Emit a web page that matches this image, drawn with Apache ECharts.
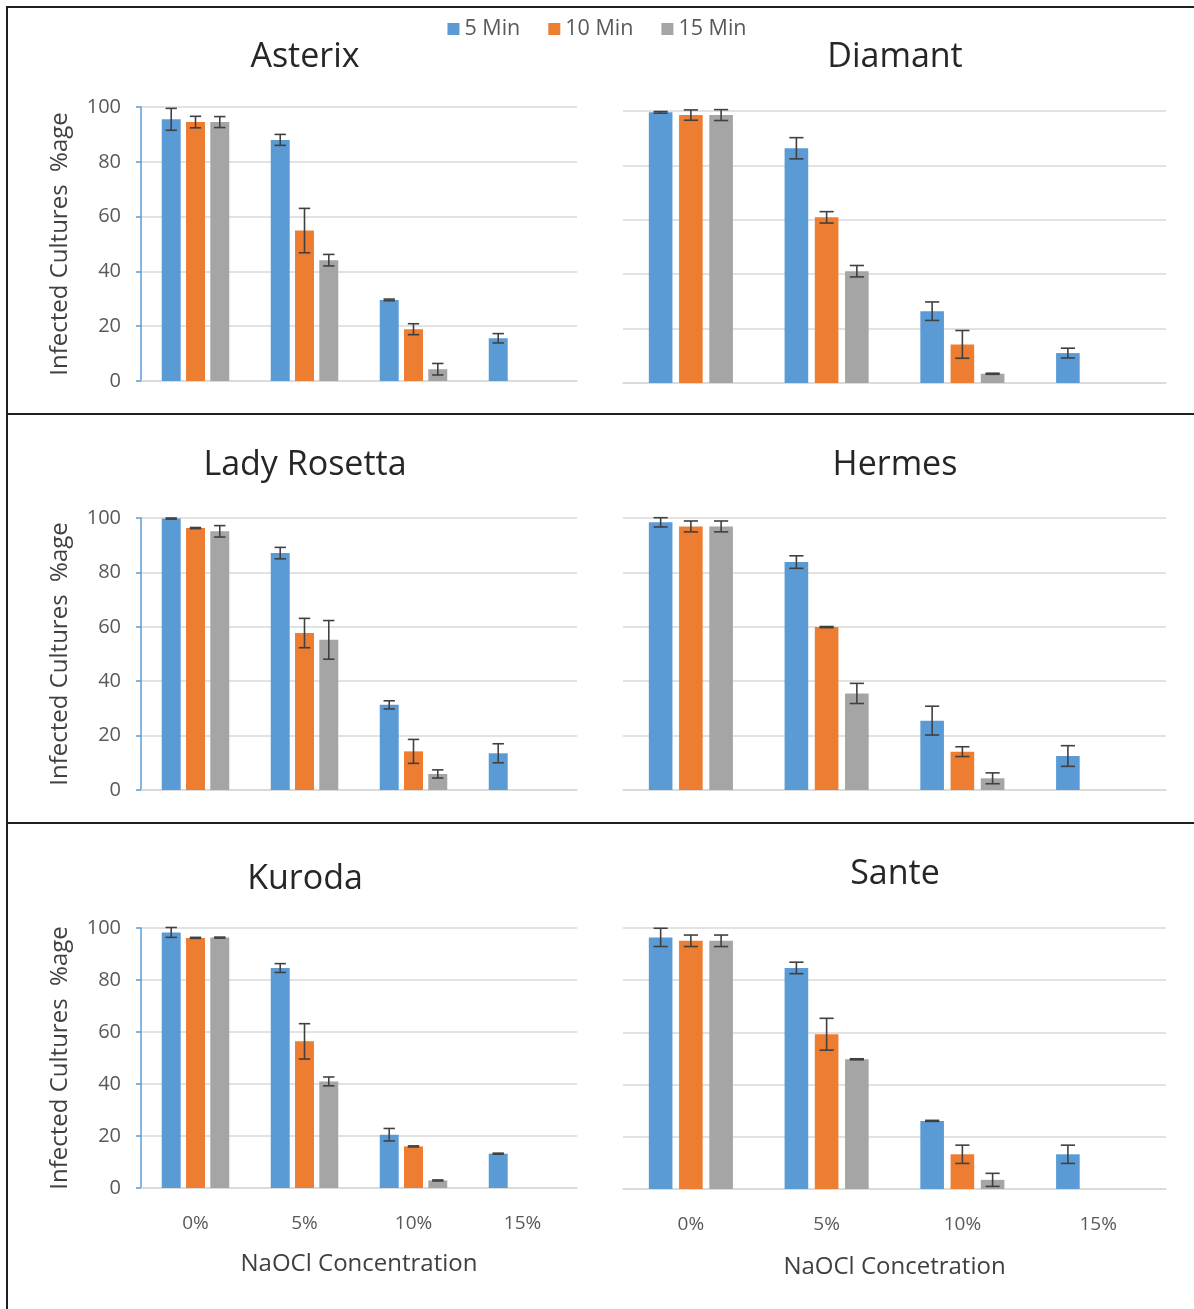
<!DOCTYPE html>
<html>
<head>
<meta charset="utf-8">
<script src="https://cdn.jsdelivr.net/npm/echarts@6/dist/echarts.min.js"></script>
<style>
html,body{margin:0;padding:0;background:#fff;}
#chart{width:1194px;height:1309px;}
</style>
</head>
<body>
<div id="chart"></div>
<script>
// ---------- DATA ----------
const categories = ['0%', '5%', '10%', '15%'];
const seriesNames = ['5 Min', '10 Min', '15 Min'];
const cultivars = ['Asterix', 'Diamant', 'Lady Rosetta', 'Hermes', 'Kuroda', 'Sante'];
const yTicks = [0, 20, 40, 60, 80, 100];
const yAxisName = 'Infected Cultures  %age';
const xAxisNames = ['NaOCl Concentration', 'NaOCl Concetration'];

// means: rows = 5 Min, 10 Min, 15 Min ; columns = categories
const asterixMeans = [[95.5, 88.0, 29.6, 15.6], [94.5, 54.9, 18.9, null], [94.5, 44.1, 4.3, null]];
const asterixErrors = [[4.0, 2.0, 0.3, 1.7], [2.1, 8.1, 2.0, null], [2.0, 2.1, 2.1, null]];
const diamantMeans = [[99.5, 86.3, 26.4, 11.0], [98.5, 60.9, 14.2, null], [98.5, 41.1, 3.4, null]];
const diamantErrors = [[0.3, 3.9, 3.4, 1.8], [1.9, 2.1, 5.1, null], [2.0, 2.1, 0.2, null]];
const ladyRosettaMeans = [[99.8, 87.1, 31.3, 13.5], [96.3, 57.7, 14.2, null], [95.1, 55.2, 5.9, null]];
const ladyRosettaErrors = [[0.2, 2.1, 1.5, 3.5], [0.2, 5.4, 4.4, null], [2.1, 7.1, 1.5, null]];
const hermesMeans = [[98.4, 83.8, 25.5, 12.5], [96.9, 59.9, 14.1, null], [96.9, 35.5, 4.3, null]];
const hermesErrors = [[1.7, 2.3, 5.3, 3.8], [2.0, 0.2, 1.8, null], [2.0, 3.7, 2.0, null]];
const kurodaMeans = [[98.3, 84.6, 20.5, 13.2], [96.2, 56.4, 16.0, null], [96.3, 41.0, 2.9, null]];
const kurodaErrors = [[1.9, 1.7, 2.4, 0.2], [0.2, 6.8, 0.2, null], [0.2, 1.7, 0.2, null]];
const santeMeans = [[96.4, 84.7, 26.1, 13.3], [95.1, 59.3, 13.3, null], [95.1, 49.7, 3.5, null]];
const santeErrors = [[3.5, 2.2, 0.2, 3.5], [2.2, 6.1, 3.5, null], [2.2, 0.2, 2.5, null]];

const allMeans = [asterixMeans, diamantMeans, ladyRosettaMeans, hermesMeans, kurodaMeans, santeMeans];
const allErrors = [asterixErrors, diamantErrors, ladyRosettaErrors, hermesErrors, kurodaErrors, santeErrors];

// ---------- STYLE / LAYOUT ----------
const colors = ['#5b9bd5', '#ed7d31', '#a5a5a5'];
const FONT = '"Open Sans", Lato, sans-serif';
const BAR_FRAC = 0.174;
const GAP_FRAC = 0.28;

const gridBoxes = [
  {left: 141, top: 107, width: 436, height: 274},
  {left: 623, top: 111, width: 543, height: 272},
  {left: 141, top: 518, width: 436, height: 272},
  {left: 623, top: 518, width: 543, height: 272},
  {left: 141, top: 928, width: 436, height: 260},
  {left: 623, top: 928, width: 543, height: 261}
];
const titlePos = [[305, 53], [895, 53], [305, 461], [895, 461], [305, 875], [895, 870]];

const grids = [], xAxes = [], yAxes = [], series = [], titles = [];

cultivars.forEach((name, p) => {
  const isLeft = p % 2 === 0;
  const isBottom = p >= 4;
  grids.push(Object.assign({containLabel: false}, gridBoxes[p]));
  titles.push({
    text: name,
    left: titlePos[p][0],
    top: titlePos[p][1] - 13,
    padding: 0,
    textAlign: 'center',
    textStyle: {fontFamily: FONT, fontSize: 34, fontWeight: 'normal', color: '#262626'}
  });
  xAxes.push({
    type: 'category',
    gridIndex: p,
    data: categories,
    axisLine: {show: true, lineStyle: {color: '#d9d9d9', width: 1.5}},
    axisTick: {show: false},
    axisLabel: {
      show: isBottom, margin: 26,
      fontFamily: FONT, fontSize: 19, color: '#595959'
    },
    name: isBottom ? xAxisNames[p - 4] : '',
    nameLocation: 'middle',
    nameGap: p === 4 ? 64 : 66,
    nameTextStyle: {fontFamily: FONT, fontSize: 24, color: '#404040'}
  });
  yAxes.push({
    type: 'value',
    gridIndex: p,
    min: yTicks[0],
    max: yTicks[yTicks.length - 1],
    interval: yTicks[1] - yTicks[0],
    axisLine: {show: isLeft, lineStyle: {color: '#5b9bd5', width: 1.5}},
    axisTick: {show: isLeft, length: 5, lineStyle: {color: '#5b9bd5', width: 1.5}},
    axisLabel: {show: isLeft, margin: 20, fontFamily: FONT, fontSize: 20, color: '#595959'},
    splitLine: {show: true, lineStyle: {color: '#d9d9d9', width: 1.5}},
    name: isLeft ? yAxisName : '',
    nameLocation: 'middle',
    nameGap: 69,
    nameTextStyle: {fontFamily: FONT, fontSize: 24, color: '#404040'}
  });
  seriesNames.forEach((sn, k) => {
    series.push({
      type: 'bar',
      name: sn,
      xAxisIndex: p,
      yAxisIndex: p,
      data: allMeans[p][k],
      barWidth: (BAR_FRAC * 100) + '%',
      barGap: (GAP_FRAC * 100) + '%',
      itemStyle: {color: colors[k]},
      z: 2
    });
  });
  seriesNames.forEach((sn, k) => {
    const data = [];
    allMeans[p][k].forEach((m, c) => {
      const e = allErrors[p][k][c];
      if (m !== null && e !== null) data.push([c, m, e]);
    });
    series.push({
      type: 'custom',
      name: 'err_' + p + '_' + k,
      xAxisIndex: p,
      yAxisIndex: p,
      z: 5,
      silent: true,
      encode: {x: 0, y: 1},
      data: data,
      renderItem: function (params, api) {
        const ci = api.value(0), m = api.value(1), e = api.value(2);
        const band = api.size([1, 0])[0];
        const w = band * BAR_FRAC;
        const offset = (k - 1) * w * (1 + GAP_FRAC);
        const top = api.coord([ci, m + e]);
        const bot = api.coord([ci, m - e]);
        const x = top[0] + offset;
        const cap = w * 0.3;
        const style = {stroke: '#404040', lineWidth: 1.6};
        return {
          type: 'group',
          children: [
            {type: 'line', shape: {x1: x, y1: top[1], x2: x, y2: bot[1]}, style: style},
            {type: 'line', shape: {x1: x - cap, y1: top[1], x2: x + cap, y2: top[1]}, style: style},
            {type: 'line', shape: {x1: x - cap, y1: bot[1], x2: x + cap, y2: bot[1]}, style: style}
          ]
        };
      }
    });
  });
});

const borderStyle = {stroke: '#1f1f1f', lineWidth: 2};
const option = {
  backgroundColor: '#ffffff',
  animation: false,
  title: titles,
  legend: {
    data: seriesNames,
    top: 13,
    left: 'center',
    icon: 'rect',
    itemWidth: 12,
    itemHeight: 12,
    itemGap: 28,
    textStyle: {fontFamily: FONT, fontSize: 21.5, color: '#595959'}
  },
  grid: grids,
  xAxis: xAxes,
  yAxis: yAxes,
  series: series,
  graphic: [
    {type: 'line', shape: {x1: 7, y1: 7, x2: 1194, y2: 7}, style: borderStyle, silent: true},
    {type: 'line', shape: {x1: 7, y1: 6, x2: 7, y2: 1309}, style: borderStyle, silent: true},
    {type: 'line', shape: {x1: 7, y1: 414, x2: 1194, y2: 414}, style: borderStyle, silent: true},
    {type: 'line', shape: {x1: 7, y1: 823, x2: 1194, y2: 823}, style: borderStyle, silent: true}
  ]
};

const chart = echarts.init(document.getElementById('chart'), null, {renderer: 'canvas'});
chart.setOption(option);
</script>
</body>
</html>
